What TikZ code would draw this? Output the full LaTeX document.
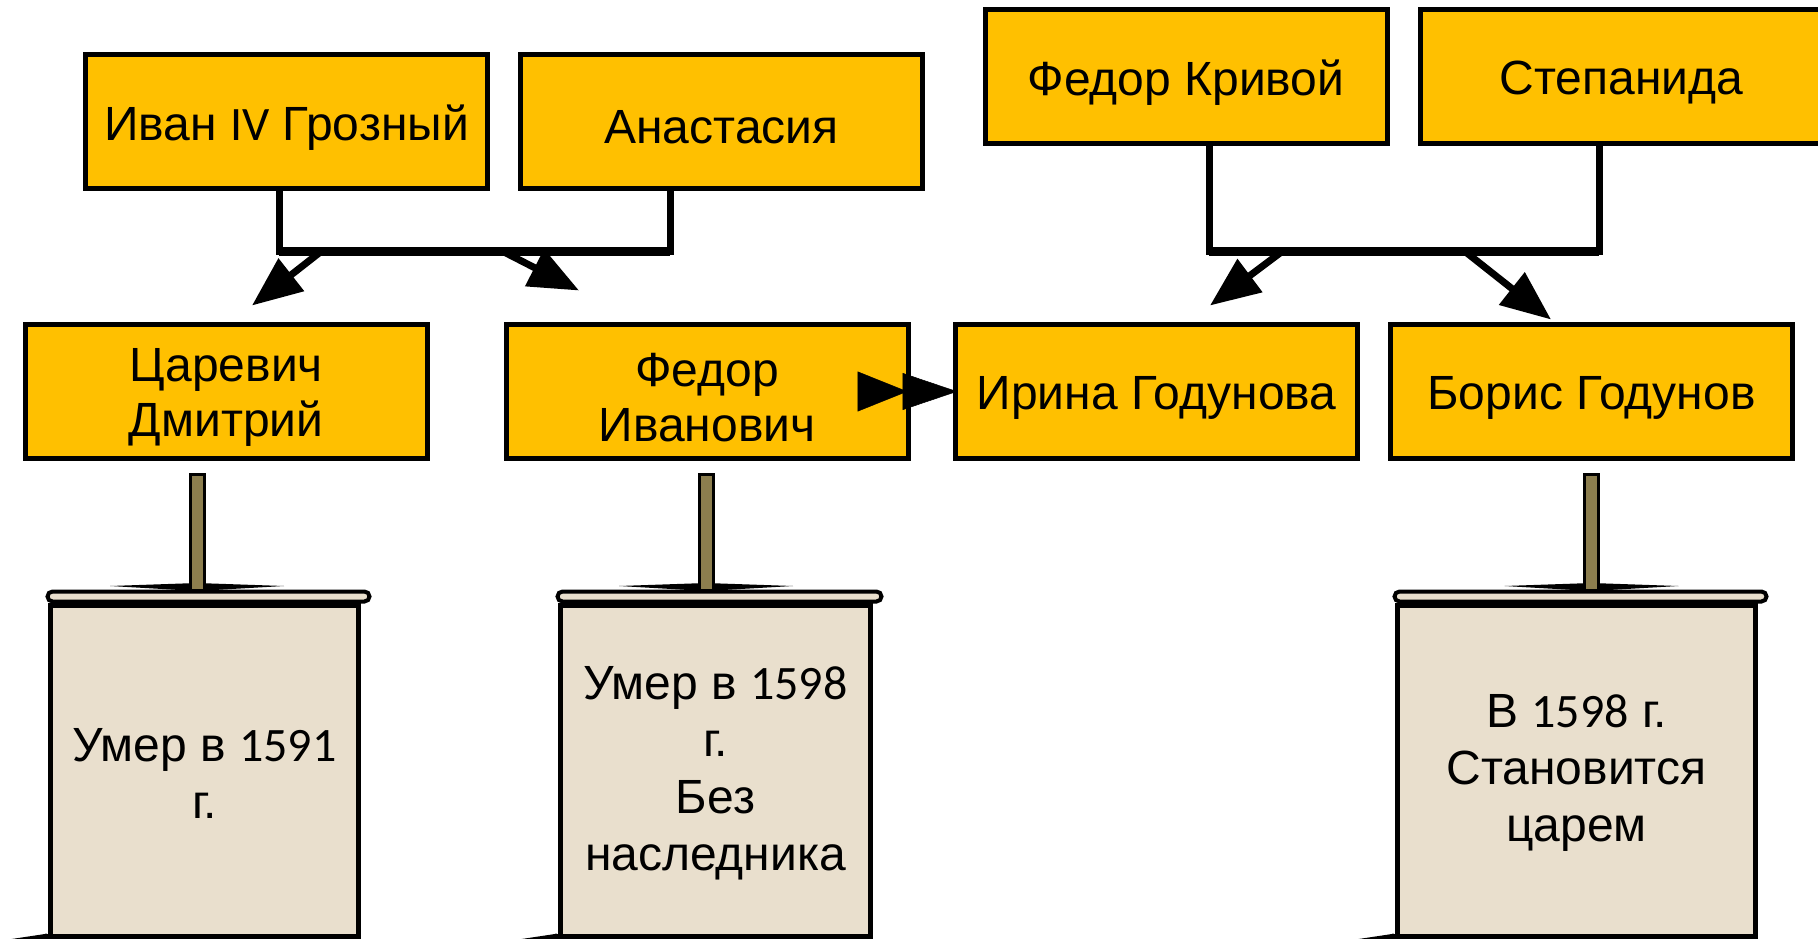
\documentclass[tikz,border=0pt]{standalone}
\usepackage{fontspec}
\setmainfont{Liberation Sans}
\newfontfamily\calib{Carlito}
\usetikzlibrary{arrows.meta}
\definecolor{gold}{RGB}{255,192,0}
\definecolor{parch}{RGB}{233,223,205}
\definecolor{stickc}{RGB}{140,126,78}
\newcommand\lowr[1]{\raisebox{-6pt}[\height][\depth]{#1}}
\newcommand\lowrs[1]{\raisebox{-2pt}[\height][\depth]{#1}}
\begin{document}
\begin{tikzpicture}[x=1pt,y=-1pt,
  pbox/.style={draw=black, line width=5pt, fill=gold, minimum width=402pt, minimum height=134pt, inner sep=0pt, align=center, font=\fontsize{48}{55}\selectfont},
  scrollbox/.style={draw=black, line width=5pt, fill=parch, inner sep=0pt, align=center, minimum height=331pt, font=\fontsize{48}{57}\selectfont},
  bracket/.style={line width=7pt, black},
  barline/.style={line width=9pt, black},
  arr/.style={line width=7pt, black, -{Triangle[length=50pt,width=40pt]}},
  roller/.style={draw=black, line width=4pt, fill=parch, rounded corners=5pt},
  stickbar/.style={draw=black, line width=3pt, fill=stickc},
  wedge/.style={fill=black}
]
\useasboundingbox (0,0) rectangle (1818,939);

% parents
\node[pbox] (ivan) at (286.5,121.5) {\lowr{Иван {\calib IV} Грозный}};
\node[pbox] (anas) at (721.5,121.5) {\lowr{Анастасия}};
\node[pbox] (fk) at (1186,76.5) {\lowr{Федор Кривой}};
\node[pbox] (step) at (1621.5,76.5) {\lowr{Степанида}};

% children
\node[pbox] (cd) at (226,391.5) {\lowr{Царевич}\\\lowr{Дмитрий}};
\node[pbox] (fi) at (707,391.5) {\lowr{Федор}\\\lowr{Иванович}};
\node[pbox] (ir) at (1156.5,391.5) {\lowr{Ирина Годунова}};
\node[pbox] (bg) at (1591.5,391.5) {\lowr{Борис Годунов}};

% left bracket
\coordinate (bl) at ([shift={(-7.5,60.5)}]ivan.south);
\coordinate (ar) at ([shift={(-51.5,0)}]anas.south);
\draw[bracket] (ivan.south -| bl) -- (bl) -- (bl -| ar) -- (ar);
\draw[barline] (bl) -- (bl -| ar);
\draw[arr] ([shift={(42,0)}]bl) -- ([shift={(26,-16.5)}]cd.north);
\draw[arr] ([shift={(224,0)}]bl) -- ([shift={(-128,-31.5)}]fi.north);

% right bracket
\coordinate (bl2) at ([shift={(23,105.5)}]fk.south);
\coordinate (ar2) at ([shift={(-22.5,0)}]step.south);
\draw[bracket] (fk.south -| bl2) -- (bl2) -- (bl2 -| ar2) -- (ar2);
\draw[barline] (bl2) -- (bl2 -| ar2);
\draw[arr] ([shift={(73,0)}]bl2) -- ([shift={(53.5,-16.5)}]ir.north);
\draw[arr] ([shift={(256,0)}]bl2) -- ([shift={(-40.5,-2.5)}]bg.north);

% marriage arrow
\draw[line width=0.5pt, black, -{Triangle[length=50pt,width=40pt,sep=-5pt]Triangle[length=55pt,width=37pt]}]
  ([shift={(-48.5,0)}]fi.east) -- ([shift={(4.5,0)}]ir.west);

% scrolls
\node[scrollbox, minimum width=308pt] (s1) at (204.5,771) {\lowrs{Умер в {\calib 1591}}\\\lowrs{г.}};
\node[scrollbox, minimum width=310pt] (s2) at (715.5,771) {\lowrs{Умер в {\calib 1598}}\\\lowrs{г.}\\\lowrs{Без}\\\lowrs{наследника}};
\node[scrollbox, minimum width=358pt] (s3) at (1576.5,771) {\lowrs{В {\calib 1598} г.}\\\lowrs{Становится}\\\lowrs{царем}};

% rollers
\draw[roller] ([shift={(-0.5,-11.5)}]s1.north west) rectangle ([shift={(8.5,-1.5)}]s1.north east);
\draw[roller] ([shift={(-0.5,-11.5)}]s2.north west) rectangle ([shift={(8.5,-1.5)}]s2.north east);
\draw[roller] ([shift={(-0.5,-11.5)}]s3.north west) rectangle ([shift={(8.5,-1.5)}]s3.north east);

% sticks (connectors child -> scroll)
\coordinate (t1) at ([shift={(-29,13.5)}]cd.south);
\coordinate (t2) at ([shift={(-1,13.5)}]fi.south);
\coordinate (t3) at ([shift={(0,13.5)}]bg.south);
\foreach \t/\s in {t1/s1,t2/s2,t3/s3}{
  \coordinate (b\t) at (\s.north -| \t);
  \fill[wedge] ([shift={(-87,-17)}]b\t) -- ([shift={(0,-20)}]b\t) -- ([shift={(87,-17)}]b\t) -- ([shift={(0,-12)}]b\t) -- cycle;
  \draw[stickbar] ([shift={(-7,0)}]\t) rectangle ([shift={(7,-13)}]b\t);
  \fill[wedge] ([shift={(-43,1)}]\s.south west) -- ([shift={(-3,-5)}]\s.south west) -- ([shift={(0,3)}]\s.south west) -- cycle;
  \fill[wedge] ([shift={(-2,-1)}]\s.south west) circle (4.5);
}
\end{tikzpicture}
\end{document}
